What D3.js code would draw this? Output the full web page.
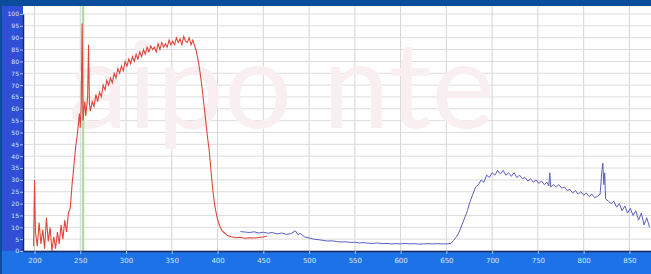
<!DOCTYPE html>
<html>
<head>
<meta charset="utf-8">
<script src="https://cdn.jsdelivr.net/npm/d3@7"></script>
<style>
  body { margin: 0; background: #0b4d9b; }
  svg { display: block; }
  .tick text { font-family: "DejaVu Sans", sans-serif; }
</style>
</head>
<body>
<div id="chart"></div>
<script>
var svgWidth = 651;
var svgHeight = 274;

// plot area margins
var margin = { top: 6, right: 0, bottom: 23, left: 23 };
var width = svgWidth - margin.left - margin.right;
var height = svgHeight - margin.top - margin.bottom;

// ---- data ----
var xTicks = [200, 250, 300, 350, 400, 450, 500, 550, 600, 650, 700, 750, 800, 850];
var yTicks = [0, 5, 10, 15, 20, 25, 30, 35, 40, 45, 50, 55, 60, 65, 70, 75, 80, 85, 90, 95, 100];
var markerNm = 253;

var redNm = [199, 200, 201, 203, 205, 207, 209, 211, 213, 215, 217, 219, 221, 223, 225, 227, 229, 231, 233, 235,
  237, 239, 241, 243, 245, 247, 249, 250, 251, 252, 253, 254, 255, 256, 257, 258, 259, 260, 261, 263,
  265, 267, 269, 271, 273, 275, 277, 279, 281, 283, 285, 287, 289, 291, 293, 295, 297, 299, 301, 303,
  305, 307, 309, 311, 313, 315, 317, 319, 321, 323, 325, 327, 329, 331, 333, 335, 337, 339, 341, 343,
  345, 347, 349, 351, 353, 355, 357, 359, 361, 363, 365, 367, 369, 371, 373, 375, 377, 379, 381, 383,
  385, 387, 389, 391, 393, 395, 397, 399, 401, 403, 405, 408, 411, 415, 420, 425, 430, 435, 440, 445,
  450, 454];
var redVal = [2, 30, 8, 2, 12, 3, 9, 1, 14, 4, 10, 0, 6, 1, 8, 3, 11, 5, 13, 8,
  16, 18, 28, 36, 44, 50, 58, 52, 62, 96, 55, 60, 63, 57, 61, 65, 87, 62, 59, 63,
  61, 66, 63, 67, 65, 70, 68, 72, 70, 73, 71, 75, 73, 77, 75, 78, 76, 80, 78, 81,
  79, 82, 80, 83, 81, 84, 82, 85, 83, 86, 84, 86.5, 85, 86, 84, 87.5, 85, 88, 86, 87.5,
  86, 89, 87, 88.5, 87, 90, 88, 89.5, 87, 90.5, 88.5, 88, 90, 87, 89, 86.5, 84, 80, 75, 69,
  62, 55, 48, 42, 33, 25, 19, 15, 12, 10, 8.5, 7.5, 6.5, 6, 5.6, 5.8, 5.4, 5.6, 5.5, 5.7,
  5.9, 6.2];

var blueNm = [425, 430, 435, 440, 445, 450, 455, 460, 465, 470, 475, 480, 485, 488, 490, 495, 500, 505, 510, 515,
  520, 525, 530, 535, 540, 545, 550, 555, 560, 565, 570, 575, 580, 585, 590, 595, 600, 605, 610, 615,
  620, 625, 630, 635, 640, 645, 650, 655, 658, 661, 664, 667, 670, 673, 676, 679, 682, 685, 688, 691,
  694, 697, 700, 703, 706, 709, 712, 715, 718, 721, 724, 727, 730, 733, 736, 739, 742, 745, 748, 751,
  754, 757, 760, 762, 763, 764, 767, 770, 773, 776, 779, 782, 785, 788, 791, 794, 797, 800, 803, 806,
  809, 812, 815, 818, 820, 821, 822, 823, 824, 827, 830, 833, 836, 839, 842, 845, 848, 851, 854, 857,
  860, 863, 866, 869, 872];
var blueVal = [8.2, 8.0, 7.8, 8.1, 7.6, 7.9, 7.5, 7.8, 7.2, 7.6, 7.0, 7.3, 8.5, 6.8, 7.5, 6.0, 5.5, 5.0, 4.8, 4.5,
  4.2, 4.3, 4.0, 3.8, 3.9, 3.6, 3.7, 3.4, 3.5, 3.3, 3.2, 3.4, 3.1, 3.2, 3.0, 3.1, 3.0, 3.2, 3.0, 3.1,
  2.9, 3.0, 3.1, 3.0, 3.1, 3.0, 3.0, 3.2, 4.5, 6, 8, 11, 14, 17, 21, 24, 27, 28, 30, 29,
  32, 31, 33, 32, 34, 32.5, 34, 32, 33, 31.5, 33, 31, 32, 30.5, 31, 29.5, 30.5, 29, 30, 28.5,
  29.5, 28, 29, 27.5, 33, 27, 28, 27, 28, 26.5, 27, 25.5, 26, 24.5, 25.5, 24, 25, 23.5, 24.5, 23,
  24, 22.5, 23, 24, 34, 37, 28, 33, 22, 21, 20, 21, 18.5, 20, 17, 19, 16, 18, 15, 17,
  13, 16, 11, 14, 10];

var redData = redNm.map((d, i) => ({ x: d, y: redVal[i] }));
var blueData = blueNm.map((d, i) => ({ x: d, y: blueVal[i] }));

var svg = d3.select("#chart")
  .append("svg")
  .attr("width", svgWidth)
  .attr("height", svgHeight);

// backgrounds: dark top band, blue left bar, bright blue bottom band
svg.append("rect").attr("width", svgWidth).attr("height", svgHeight).attr("fill", "#0b4d9b");
svg.append("rect").attr("x", 0).attr("y", margin.top).attr("width", margin.left)
  .attr("height", height).attr("fill", "#2f4fd6");
svg.append("rect").attr("x", 0).attr("y", margin.top + height).attr("width", svgWidth)
  .attr("height", margin.bottom).attr("fill", "#1c72e6");
svg.append("rect").attr("x", 0).attr("y", margin.top).attr("width", 2)
  .attr("height", svgHeight - margin.top).attr("fill", "#0b4d9b");

var chartGroup = svg.append("g")
  .attr("transform", `translate(${margin.left}, ${margin.top})`);

chartGroup.append("rect").attr("width", width).attr("height", height).attr("fill", "#ffffff");

var xScale = d3.scaleLinear().domain([187.4, 873.6]).range([0, width]);
var yScale = d3.scaleLinear().domain([0, 100]).range([height, 8]);

// grid
chartGroup.append("g")
  .selectAll("line.v")
  .data(xTicks)
  .enter().append("line")
  .attr("x1", d => xScale(d)).attr("x2", d => xScale(d))
  .attr("y1", 0).attr("y2", height)
  .attr("stroke", "#d4d4d4").attr("stroke-width", 1);

chartGroup.append("g")
  .selectAll("line.h")
  .data(yTicks)
  .enter().append("line")
  .attr("x1", 0).attr("x2", width)
  .attr("y1", d => yScale(d)).attr("y2", d => yScale(d))
  .attr("stroke", "#dcdcdc").attr("stroke-width", 1);

// faint watermark
chartGroup.append("text")
  .attr("x", xScale(470)).attr("y", yScale(52))
  .attr("text-anchor", "middle")
  .attr("font-family", "Lato, sans-serif")
  .attr("font-size", 120)
  .attr("fill", "#f9eff0")
  .text("aipo nte");

// green marker line
chartGroup.append("line")
  .attr("x1", xScale(markerNm)).attr("x2", xScale(markerNm))
  .attr("y1", 0).attr("y2", height)
  .attr("stroke", "#b0dca8").attr("stroke-width", 2.5);

var line = d3.line().x(d => xScale(d.x)).y(d => yScale(d.y));

chartGroup.append("path")
  .datum(redData)
  .attr("d", line)
  .attr("fill", "none")
  .attr("stroke", "#e0453c")
  .attr("stroke-width", 1.1);

chartGroup.append("path")
  .datum(blueData)
  .attr("d", line)
  .attr("fill", "none")
  .attr("stroke", "#5a5fc0")
  .attr("stroke-width", 1);

// axes
var bottomAxis = d3.axisBottom(xScale).tickValues(xTicks).tickSize(3).tickSizeOuter(0);
var leftAxis = d3.axisLeft(yScale).tickValues(yTicks).tickSize(3).tickSizeOuter(0);

var xAxis = chartGroup.append("g")
  .attr("transform", `translate(0, ${height})`)
  .call(bottomAxis);
xAxis.select(".domain").attr("stroke", "#1a2a60").attr("stroke-width", 1.5);
xAxis.selectAll(".tick line").attr("stroke", "#9fc4ff");
xAxis.selectAll(".tick text").attr("fill", "#d8e8ff").attr("font-size", 7).attr("dy", "0.9em");

var yAxis = chartGroup.append("g").call(leftAxis);
yAxis.select(".domain").attr("stroke", "#1a2a60").attr("stroke-width", 1.5);
yAxis.selectAll(".tick line").attr("stroke", "#9fc4ff");
yAxis.selectAll(".tick text").attr("fill", "#d8e8ff").attr("font-size", 6).attr("x", -4);
</script>
</body>
</html>
